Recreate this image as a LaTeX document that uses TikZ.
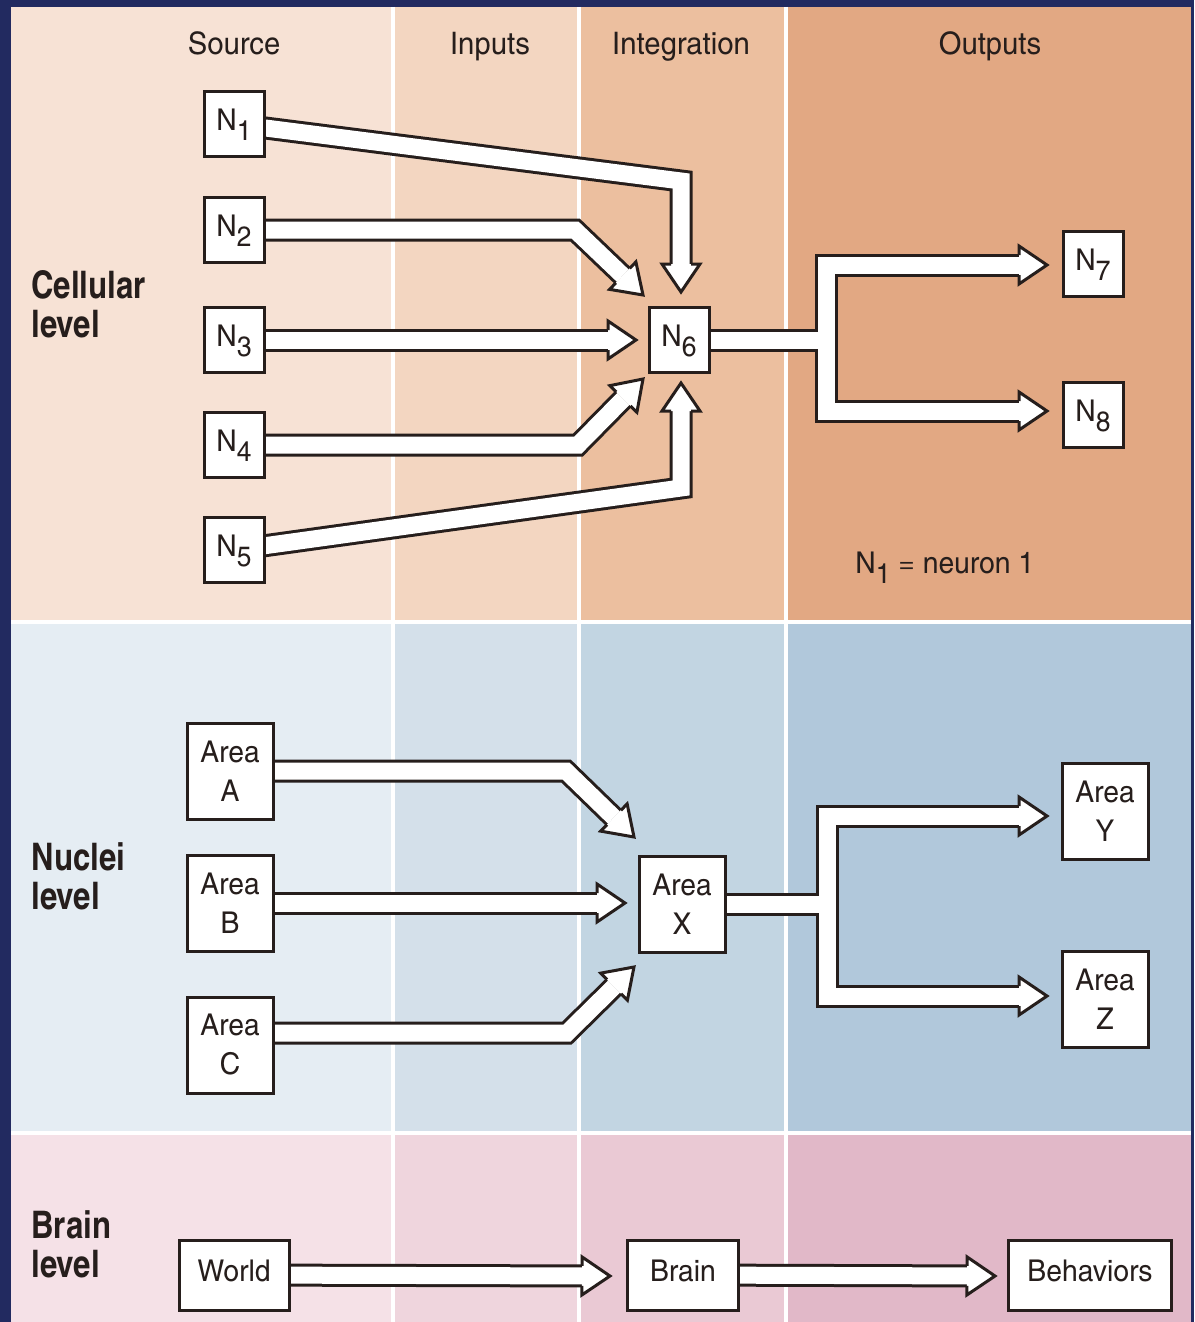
\documentclass[tikz,border=0pt]{standalone}
\usepackage{fontspec}
\setmainfont{TeX Gyre Heros Cn}[FakeStretch=1.15]
\newfontfamily\lvlfont{TeX Gyre Heros Cn}
\usetikzlibrary{calc, positioning}

\definecolor{frame}{RGB}{34,42,96}
\definecolor{ink}{RGB}{38,30,28}
% cellular row
\definecolor{c1}{RGB}{247,226,213}
\definecolor{c2}{RGB}{243,214,193}
\definecolor{c3}{RGB}{236,191,159}
\definecolor{c4}{RGB}{226,168,131}
% nuclei row
\definecolor{n1}{RGB}{229,237,243}
\definecolor{n2}{RGB}{212,224,234}
\definecolor{n3}{RGB}{194,213,226}
\definecolor{n4}{RGB}{177,200,219}
% brain row
\definecolor{b1}{RGB}{245,225,231}
\definecolor{b2}{RGB}{239,213,221}
\definecolor{b3}{RGB}{234,201,212}
\definecolor{b4}{RGB}{225,184,200}

\pgfdeclarelayer{bands}
\pgfdeclarelayer{flow}
\pgfsetlayers{bands,flow,main}

\newcommand{\nsub}[1]{\raisebox{-5pt}{\fontsize{14pt}{14pt}\selectfont #1}}
% open white head, base at #1, tip at #2
\newcommand{\fathead}[2]{%
  \filldraw[tipfill] ($(#1)!5pt!90:(#2)$) -- ($(#1)!9.5pt!90:(#2)$) -- (#2)
    -- ($(#1)!9.5pt!-90:(#2)$) -- ($(#1)!5pt!-90:(#2)$);}
% #1 path up to last bend #2, tip #3
\newcommand{\fatarrow}[3]{%
  \coordinate (hb) at ($(#3)!14pt!(#2)$);
  \draw[shaft] #1 -- (hb);
  \fathead{hb}{#3}}

\begin{document}
\begin{tikzpicture}[
    x=0.5pt, y=-0.5pt,
    every node/.style={text=ink},
    box/.style={draw=ink, fill=white, line width=1.5pt, inner sep=0pt},
    nbox/.style={box, minimum width=30pt, minimum height=32.5pt,
        text height=1.5ex, text depth=.25ex, font=\fontsize{15pt}{17pt}\selectfont},
    abox/.style={box, minimum width=43pt, minimum height=48pt,
        align=center, font=\fontsize{15pt}{19.5pt}\selectfont},
    wbox/.style={box, minimum width=55pt, minimum height=35pt,
        text height=1.5ex, text depth=.25ex, font=\fontsize{15pt}{17pt}\selectfont},
    colhead/.style={anchor=base, font=\fontsize{15.5pt}{18pt}\selectfont},
    lvl/.style={anchor=west, align=left, inner sep=0pt,
        font=\fontsize{19pt}{19.5pt}\lvlfont\bfseries},
    shaft/.style={draw=ink, line width=1.5pt, double=white, double distance=8.5pt, line join=miter},
    tipfill/.style={draw=ink, fill=white, line width=1.5pt, line join=miter},
    sep/.style={white, line width=2pt},
]
\useasboundingbox (0,0) rectangle (1194,1322);

% Background grid
\begin{pgfonlayer}{bands}
\fill[frame] (0,0) rectangle (1194,1322);
\foreach \ya/\yb/\r in {7/622/c, 622/1133/n, 1133/1322/b}
  \foreach \xa/\xb/\k in {11/393/1, 393/579/2, 579/786/3, 786/1191/4}
    \fill[\r\k] (\xa,\ya) rectangle (\xb,\yb);
\foreach \x in {393,579,786}
  \draw[sep] (\x,7) -- (\x,1322);
\foreach \y in {622,1133}
  \draw[sep] (11,\y) -- (1191,\y);
\end{pgfonlayer}

% Column heads and level labels
\node[colhead] (hsrc) at (234,55) {Source};
\node[colhead] (hin) at (490,55) {Inputs};
\node[colhead] (hint) at (681,55) {Integration};
\node[colhead] (hout) at (990,55) {Outputs};
\node[lvl] (lcell) at (31,304) {Cellular\\level};
\node[lvl] (lnuc) at (31,876) {Nuclei\\level};
\node[lvl] (lbrain) at (31,1244) {Brain\\level};

% Cellular level
\node[nbox] (N1) at (234,124) {N\nsub{1}};
\node[nbox] (N2) at (234,230) {N\nsub{2}};
\node[nbox] (N3) at (234,340) {N\nsub{3}};
\node[nbox] (N4) at (234,445) {N\nsub{4}};
\node[nbox] (N5) at (234,550) {N\nsub{5}};
\node[nbox] (N6) at (679,340) {N\nsub{6}};
\node[nbox] (N7) at (1093,264) {N\nsub{7}};
\node[nbox] (N8) at (1093,415) {N\nsub{8}};
\node[anchor=base west, inner sep=0pt, font=\fontsize{15pt}{17pt}\selectfont] (key) at (855,573) {N\nsub{1} = neuron 1};

% Nuclei level
\node[abox] (AA) at (230,771) {Area\\A};
\node[abox] (AB) at (230,903) {Area\\B};
\node[abox] (AC) at (230,1045) {Area\\C};
\node[abox] (AX) at (682,904) {Area\\X};
\node[abox] (AY) at (1105,811) {Area\\Y};
\node[abox] (AZ) at (1105,999) {Area\\Z};

% Brain level
\node[wbox] (world) at (234,1275) {World};
\node[wbox, minimum width=55.5pt] (brain) at (683,1275) {Brain};
\node[wbox, minimum width=81.5pt] (behav) at (1090,1275) {Behaviors};

% bends and tips
\coordinate (c1) at (681,181);  \coordinate (t1) at (681,292);
\coordinate (c2) at (575,230);  \coordinate (t2) at (643,295);
\coordinate (t3) at (636,340);
\coordinate (c4) at (578,445);  \coordinate (t4) at (643,379);
\coordinate (c5) at (681,488);  \coordinate (t5) at (681,383);
\coordinate (j6) at (826,340);
\coordinate (j7) at (826,265);  \coordinate (t7) at (1047,265);
\coordinate (j8) at (826,411);  \coordinate (t8) at (1047,411);
\coordinate (cA) at (566,771);  \coordinate (tA) at (634,837);
\coordinate (tB) at (625,903);
\coordinate (cC) at (567,1033); \coordinate (tC) at (634,967);
\coordinate (jX) at (827,904);
\coordinate (jY) at (827,816);  \coordinate (tY) at (1047,816);
\coordinate (jZ) at (827,996);  \coordinate (tZ) at (1047,996);
\coordinate (tW) at (610,1276);
\coordinate (tR) at (995,1276);

\begin{pgfonlayer}{flow}
% inputs to N6
\fatarrow{(N1.center) -- (c1)}{c1}{t1}
\fatarrow{(N2.center) -- (c2)}{c2}{t2}
\fatarrow{(N3.center)}{N3.center}{t3}
\fatarrow{(N4.center) -- (c4)}{c4}{t4}
\fatarrow{(N5.center) -- (c5)}{c5}{t5}
% N6 fans out
\coordinate (h7) at ($(t7)!14pt!(j7)$);
\coordinate (h8) at ($(t8)!14pt!(j8)$);
\draw[shaft] (N6.center) -- (j6) (h7) -- (j7) -- (j8) -- (h8);
\fathead{h7}{t7}
\fathead{h8}{t8}

% areas into X
\fatarrow{(AA.center) -- (cA)}{cA}{tA}
\fatarrow{(AB.center)}{AB.center}{tB}
\fatarrow{([yshift=6pt]AC.center) -- (cC)}{cC}{tC}
% X fans out
\coordinate (hY) at ($(tY)!14pt!(jY)$);
\coordinate (hZ) at ($(tZ)!14pt!(jZ)$);
\draw[shaft] (AX.center) -- (jX) (hY) -- (jY) -- (jZ) -- (hZ);
\fathead{hY}{tY}
\fathead{hZ}{tZ}

% world to behaviors
\fatarrow{(world.center)}{world.center}{tW}
\fatarrow{(brain.center)}{brain.center}{tR}
\end{pgfonlayer}

\end{tikzpicture}
\end{document}
